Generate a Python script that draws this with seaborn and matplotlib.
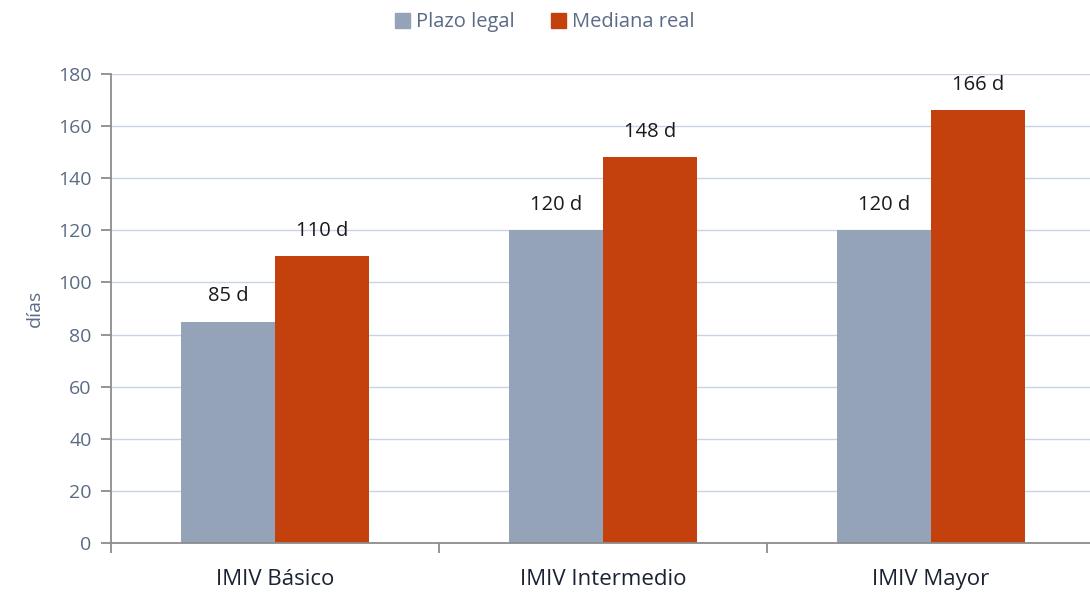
import matplotlib.pyplot as plt
import pandas as pd
import seaborn as sns

categories = ["IMIV Básico", "IMIV Intermedio", "IMIV Mayor"]
series = ["Plazo legal", "Mediana real"]
plazo_legal = [85, 120, 120]
mediana_real = [110, 148, 166]

COLORS = ["#95A3B8", "#C4410D"]
TICK_COLOR = "#5B6B86"

df = pd.DataFrame(
    {
        "categoria": categories * 2,
        "serie": [series[0]] * 3 + [series[1]] * 3,
        "dias": plazo_legal + mediana_real,
    }
)

sns.set_theme(style="white")
plt.rcParams["font.family"] = ["Open Sans", "DejaVu Sans"]

fig = plt.figure(figsize=(10.9, 5.92), dpi=100)
ax = fig.add_axes([111 / 1090, 49 / 592, 984 / 1090, 469 / 592])

sns.barplot(
    data=df, x="categoria", y="dias", hue="serie", palette=COLORS,
    width=0.573, saturation=1, legend=False, linewidth=0, ax=ax,
)

for cont in ax.containers:
    labels = [f"{v:.0f} d" for v in cont.datavalues]
    ax.bar_label(cont, labels=labels, padding=11, fontsize=14.5, color="#1a1a1a")

ax.set_ylim(0, 180)
ax.set_xlim(-0.5, 2.5)
ax.set_yticks(range(0, 181, 20))
ax.yaxis.grid(True, color="#C8D4E4", linewidth=1)
ax.set_axisbelow(True)

for side in ["top", "right"]:
    ax.spines[side].set_visible(False)
for side in ["left", "bottom"]:
    ax.spines[side].set_color("#8C8C8C")
    ax.spines[side].set_linewidth(1.3)

ax.tick_params(axis="y", left=True, length=7, width=1.3, color="#8C8C8C",
               labelsize=14, labelcolor=TICK_COLOR, pad=7)
ax.set_xticks([0, 1, 2])
ax.set_xticklabels(categories)
ax.tick_params(axis="x", bottom=False, labelsize=16, labelcolor="#1B2333", pad=13)
ax.set_xticks([-0.5, 0.5, 1.5, 2.5], minor=True)
ax.tick_params(axis="x", which="minor", bottom=True, length=7, width=1.3, color="#8C8C8C")

ax.set_xlabel("")
ax.set_ylabel("días", fontsize=14, color=TICK_COLOR, labelpad=10)

handles = [plt.Rectangle((0, 0), 1, 1, color=c) for c in COLORS]
fig.legend(handles, series, loc="upper center", bbox_to_anchor=(0.5, 1.01), ncol=2,
           frameon=False, fontsize=14.5, labelcolor=TICK_COLOR,
           handlelength=0.75, handleheight=0.75, handletextpad=0.3, columnspacing=1.8)

fig.savefig("out.png", dpi=100)
